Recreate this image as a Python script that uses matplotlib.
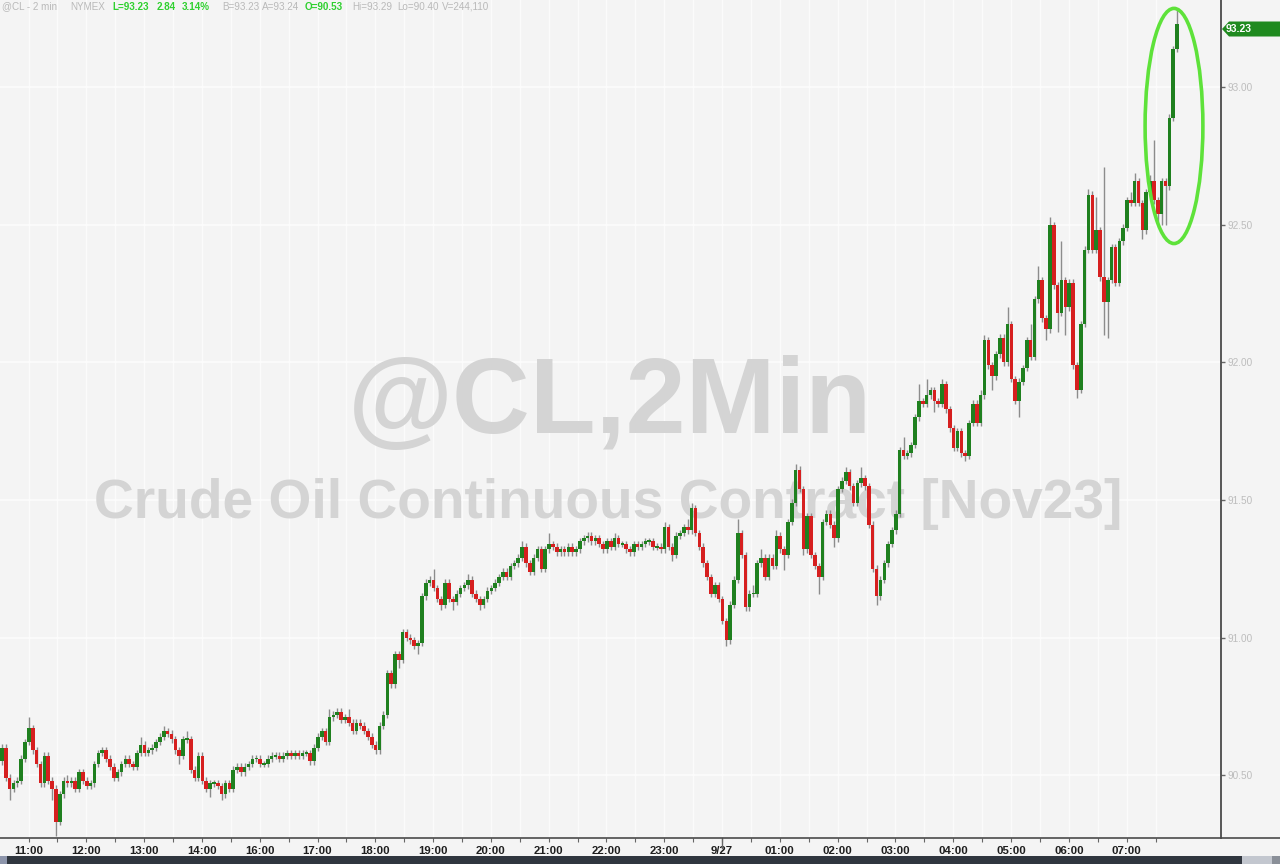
import matplotlib
matplotlib.use("Agg")
import matplotlib.pyplot as plt
from matplotlib.patches import Ellipse, Polygon, Rectangle
from matplotlib.lines import Line2D

# ---------------- data (4-minute candles) ----------------
first_open = 90.55
close = [
    90.60, 90.49, 90.45, 90.47, 90.48, 90.56, 90.62, 90.67, 90.59, 90.54,
    90.47, 90.57, 90.48, 90.45, 90.33, 90.43, 90.48, 90.47, 90.48, 90.45,
    90.51, 90.48, 90.46, 90.47, 90.54, 90.58, 90.59, 90.56, 90.53, 90.49,
    90.51, 90.54, 90.56, 90.54, 90.53, 90.58, 90.61, 90.58, 90.59, 90.60,
    90.62, 90.64, 90.66, 90.65, 90.63, 90.59, 90.57, 90.63, 90.63, 90.52,
    90.49, 90.57, 90.48, 90.45, 90.47, 90.47, 90.46, 90.43, 90.47, 90.45,
    90.52, 90.53, 90.51, 90.53, 90.54, 90.56, 90.56, 90.54, 90.54, 90.56,
    90.57, 90.57, 90.56, 90.57, 90.58, 90.57, 90.58, 90.57, 90.58, 90.58,
    90.55, 90.60, 90.64, 90.66, 90.62, 90.71, 90.72, 90.73, 90.70, 90.71,
    90.69, 90.66, 90.69, 90.68, 90.66, 90.64, 90.61, 90.59, 90.68, 90.72,
    90.87, 90.83, 90.94, 90.92, 91.02, 91.00, 90.99, 90.97, 90.98, 91.15,
    91.20, 91.21, 91.18, 91.14, 91.12, 91.20, 91.14, 91.13, 91.16, 91.18,
    91.19, 91.21, 91.16, 91.14, 91.12, 91.14, 91.17, 91.18, 91.20, 91.22,
    91.24, 91.22, 91.26, 91.27, 91.29, 91.33, 91.27, 91.24, 91.29, 91.32,
    91.25, 91.32, 91.34, 91.33, 91.31, 91.32, 91.31, 91.33, 91.31, 91.32,
    91.35, 91.36, 91.37, 91.35, 91.36, 91.34, 91.32, 91.35, 91.33, 91.36,
    91.34, 91.34, 91.32, 91.31, 91.34, 91.33, 91.34, 91.35, 91.35, 91.33,
    91.33, 91.32, 91.40, 91.33, 91.30, 91.37, 91.38, 91.40, 91.39, 91.47,
    91.38, 91.33, 91.27, 91.22, 91.16, 91.19, 91.14, 91.06, 90.99, 91.12,
    91.21, 91.38, 91.30, 91.11, 91.16, 91.16, 91.27, 91.29, 91.22, 91.29,
    91.26, 91.37, 91.32, 91.30, 91.42, 91.49, 91.61, 91.54, 91.32, 91.44,
    91.30, 91.26, 91.22, 91.42, 91.45, 91.41, 91.36, 91.54, 91.57, 91.60,
    91.55, 91.49, 91.56, 91.58, 91.55, 91.41, 91.25, 91.15, 91.21, 91.27,
    91.34, 91.39, 91.45, 91.68, 91.66, 91.67, 91.70, 91.80, 91.86, 91.85,
    91.88, 91.90, 91.86, 91.85, 91.92, 91.83, 91.76, 91.69, 91.75, 91.67,
    91.66, 91.78, 91.85, 91.78, 91.88, 92.08, 91.99, 91.95, 92.03, 92.09,
    92.00, 92.14, 91.94, 91.86, 91.93, 91.98, 92.08, 92.02, 92.23, 92.30,
    92.16, 92.12, 92.50, 92.28, 92.18, 92.30, 92.20, 92.29, 91.99, 91.90,
    92.14, 92.41, 92.61, 92.41, 92.48, 92.31, 92.22, 92.30, 92.42, 92.29,
    92.44, 92.49, 92.59, 92.58, 92.66, 92.58, 92.48, 92.62, 92.66, 92.59,
    92.54, 92.66, 92.64, 92.89, 93.14, 93.23,
]
wick_high = {7: 90.71, 17: 90.50, 36: 90.64, 42: 90.68, 48: 90.66, 85: 90.74,
             90: 90.74, 112: 91.25, 121: 91.23, 135: 91.35, 142: 91.38,
             159: 91.38, 172: 91.42, 178: 91.43, 179: 91.49, 191: 91.43,
             195: 91.19, 197: 91.32, 201: 91.39, 206: 91.63, 219: 91.62,
             223: 91.62, 234: 91.73, 238: 91.92, 240: 91.94, 244: 91.94,
             254: 91.90, 255: 92.10, 259: 92.10, 261: 92.20, 267: 92.14,
             269: 92.35, 272: 92.53, 275: 92.44, 282: 92.63, 284: 92.60,
             286: 92.71, 293: 92.62, 294: 92.69, 298: 92.68, 299: 92.81,
             305: 93.29}
wick_low = {2: 90.41, 13: 90.41, 14: 90.28, 46: 90.54, 54: 90.42, 57: 90.41,
            97: 90.58, 103: 90.89, 108: 90.94, 114: 91.10, 117: 91.10,
            124: 91.10, 174: 91.28, 188: 90.97, 193: 91.10, 203: 91.245,
            208: 91.30, 212: 91.16, 216: 91.33, 227: 91.12, 242: 91.82,
            250: 91.64, 257: 91.90, 264: 91.80, 271: 92.08, 274: 92.11,
            276: 92.10, 279: 91.87, 286: 92.10, 287: 92.09, 296: 92.45,
            300: 92.51, 301: 92.50, 302: 92.50}

time_labels = ['11:00', '12:00', '13:00', '14:00', '16:00', '17:00', '18:00',
               '19:00', '20:00', '21:00', '22:00', '23:00', '9/27', '01:00',
               '02:00', '03:00', '04:00', '05:00', '06:00', '07:00']
first_label_bar = 6.9      # bar index of the 11:00 mark
bars_per_hour = 15         # 4-minute bars
price_ticks = [90.50, 91.00, 91.50, 92.00, 92.50, 93.00]
last_price = 93.23

header = [("@CL - 2 min", False), ("NYMEX", False), ("L=93.23", True),
          ("2.84", True), ("3.14%", True), ("B=93.23", False),
          ("A=93.24", False), ("O=90.53", True), ("Hi=93.29", False),
          ("Lo=90.40", False), ("V=244,110", False)]
header_x = [2, 70, 112, 157, 182, 222, 262, 305, 352, 397, 442]

# ---------------- figure ----------------
W, H = 1280, 864
BG = '#f4f4f4'
UP, DOWN, WICKC = '#1f801f', '#d61f1f', '#8c8c8c'
fig = plt.figure(figsize=(W / 100, H / 100), dpi=100, facecolor=BG)

def fx(px):
    return px / W

def fy(py):
    return 1 - py / H

ax_right, ax_bottom = 1221, 838
ax = fig.add_axes([0, fy(ax_bottom), fx(ax_right), ax_bottom / H])
ax.set_facecolor(BG)

n = len(close)
opens = [first_open] + close[:-1]
xs = list(range(n))
bottoms, heights, colors, highs, lows = [], [], [], [], []
for i in range(n):
    o, c = opens[i], close[i]
    lo_b, hi_b = min(o, c), max(o, c)
    h = max(hi_b - lo_b, 0.007)
    bottoms.append(lo_b if hi_b - lo_b >= 0.007 else lo_b - 0.0035)
    heights.append(h)
    colors.append(UP if c >= o else DOWN)
    highs.append(max(hi_b + 0.012, wick_high.get(i, 0)))
    lows.append(min(lo_b - 0.012, wick_low.get(i, 99)))

ax.vlines(xs, lows, highs, color=WICKC, lw=1.0, zorder=3)
ax.bar(xs, heights, bottom=bottoms, width=0.92, color=colors, linewidth=0,
       zorder=4)

# axis ranges (pixel layout of the reference)
ax.set_xlim(-0.52, 316.4)
ax.set_ylim(90.271, 93.318)

hour_pos = [first_label_bar + k * bars_per_hour for k in range(len(time_labels))]
half_pos = [p + bars_per_hour / 2 for p in hour_pos]
for p in hour_pos + half_pos:
    ax.axvline(p, color='#fbfbfb', lw=1.0, zorder=1)
for p in price_ticks:
    ax.axhline(p, color='#fdfdfd', lw=1.1, zorder=1)

ax.set_xticks(hour_pos)
ax.set_xticklabels(time_labels)
ax.set_xticks(half_pos, minor=True)
ax.tick_params(axis='x', which='both', direction='out', length=3, width=0.8,
               color='#666666', pad=3)
for lab in ax.get_xticklabels():
    lab.set_fontsize(8.2)
    lab.set_fontweight('bold')
    lab.set_color('#1e1e1e')
    lab.set_family('Liberation Sans')

ax.yaxis.tick_right()
ax.set_yticks(price_ticks)
ax.set_yticklabels([f"{p:.2f}" for p in price_ticks])
ax.tick_params(axis='y', direction='out', length=3, width=1, color='#666666',
               pad=1.5, labelsize=7.2, labelcolor='#bdbdbd')
for lab in ax.get_yticklabels():
    lab.set_family('Liberation Sans')

for s in ('top', 'left'):
    ax.spines[s].set_visible(False)
ax.spines['bottom'].set_color('#4a4a4a')
ax.spines['bottom'].set_linewidth(1.2)
ax.spines['right'].set_color('#4a4a4a')
ax.spines['right'].set_linewidth(1.3)

# bottom axis line continues under the price scale
fig.add_artist(Line2D([fx(ax_right), 1], [fy(ax_bottom), fy(ax_bottom)],
                      color='#4a4a4a', lw=1.2))
# day separator tick
day_x = hour_pos[time_labels.index('9/27')]
ax.plot([day_x, day_x], [0, -0.012], transform=ax.get_xaxis_transform(),
        color='#666666', lw=1, clip_on=False)

# watermark (behind the candles)
wm1 = ax.text(fx(610), fy(433), "@CL,2Min", transform=fig.transFigure,
              ha='center', va='baseline', fontsize=80, fontweight='bold',
              family='Liberation Sans', color='#d4d4d4', zorder=2)
wm2 = ax.text(fx(608), fy(518), "Crude Oil Continuous Contract [Nov23]",
              transform=fig.transFigure, ha='center', va='baseline',
              fontsize=40, fontweight='bold', family='Liberation Sans',
              color='#d4d4d4', zorder=2)
fig.canvas.draw()
r = fig.canvas.get_renderer()
for t, target in ((wm1, 524), (wm2, 1027)):
    w = t.get_window_extent(r).width
    t.set_fontsize(t.get_fontsize() * target / w)

# highlight ellipse around the final spike
ax.add_patch(Ellipse((304.2, 92.86), 15.0, 0.855, fill=False,
                     edgecolor='#5ee23a', lw=2.6, zorder=6))

# last price marker on the scale
ly = 29
poly = Polygon([(fx(1222), fy(ly)), (fx(1229), fy(ly - 7.5)), (fx(1280), fy(ly - 7.5)),
                (fx(1280), fy(ly + 7.5)), (fx(1229), fy(ly + 7.5))],
               closed=True, transform=fig.transFigure, facecolor='#1f8a1f',
               edgecolor='none')
fig.add_artist(poly)
fig.text(fx(1226), fy(ly), f"{last_price:.2f}", color='white', fontsize=7.5,
         fontweight='bold', family='Liberation Sans', va='center', ha='left')

# header line
for (txt, green), x0 in zip(header, header_x):
    fig.text(fx(x0), fy(6.5), txt, fontsize=7.1, family='Liberation Sans',
             color='#2fd02f' if green else '#b9b9b9', va='center', ha='left',
             fontweight='bold' if green else 'normal')

# bottom scroll bar
fig.add_artist(Rectangle((0, 0), 1, 8 / H, transform=fig.transFigure,
                         facecolor='#30363f', edgecolor='none'))
fig.add_artist(Rectangle((0, 0), fx(7), 8 / H, transform=fig.transFigure,
                         facecolor='#8d95ab', edgecolor='none'))
fig.add_artist(Rectangle((fx(1242), 0), fx(30), 8 / H, transform=fig.transFigure,
                         facecolor='#c3c7cf', edgecolor='none'))
fig.add_artist(Rectangle((fx(1272), 0), fx(8), 8 / H, transform=fig.transFigure,
                         facecolor='#8a8f98', edgecolor='none'))

fig.savefig("out.png", dpi=100, facecolor=BG)
